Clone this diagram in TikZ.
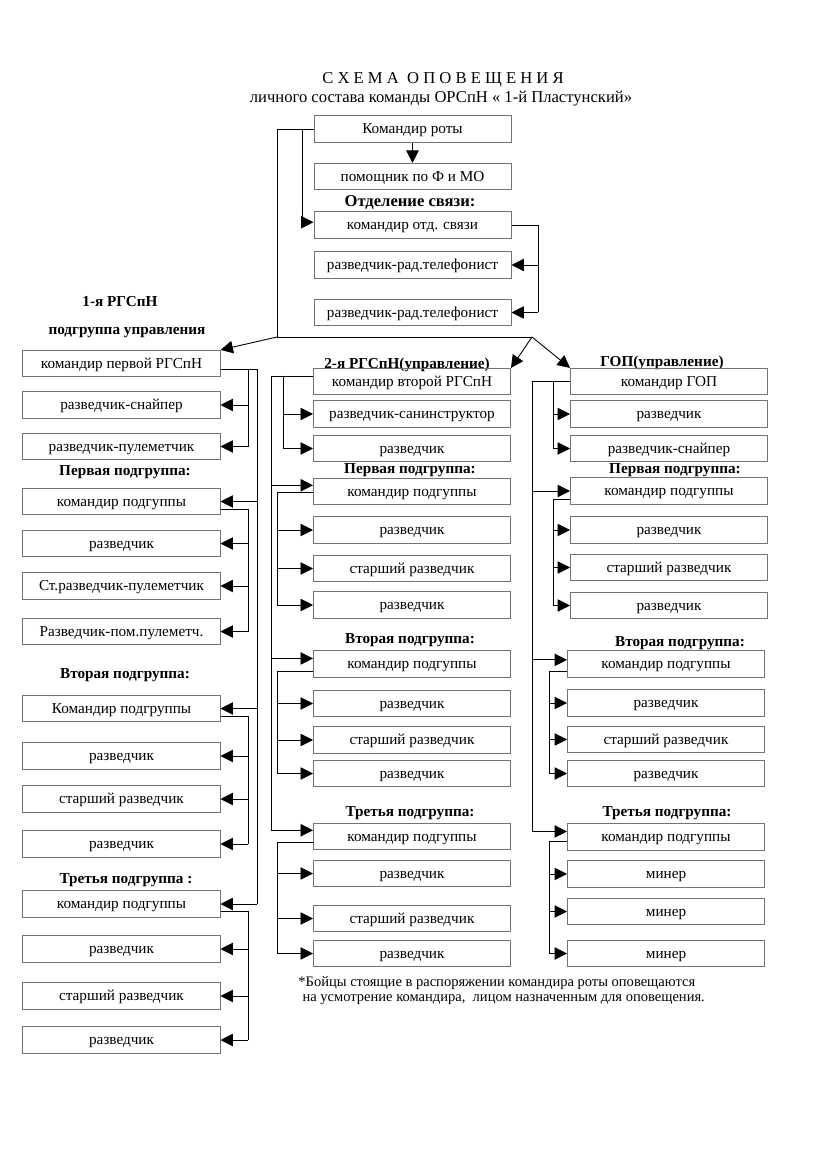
\documentclass[tikz,border=0pt]{standalone}
\usepackage{fontspec}
\setmainfont{Liberation Serif}
\usetikzlibrary{arrows.meta}
\tikzset{
  cell/.style={draw=black!55, line width=0.6pt, minimum width=142.5pt, minimum height=19pt, inner sep=0pt, text height=8.5pt, text depth=1.5pt, font=\fontsize{11}{13}\selectfont},
  head/.style={inner sep=0pt, font=\bfseries\fontsize{11}{13}\selectfont},
}
\begin{document}
\begin{tikzpicture}[x=0.254mm,y=-0.254mm,>={Triangle[length=9pt,width=9pt]},line width=0.65pt]
\useasboundingbox (0,0) rectangle (826,1169);
% title
\node[font=\fontsize{12}{14}\selectfont] (title) at (443,80) {С Х Е М А\ \ О П О В Е Щ Е Н И Я};
\node[font=\fontsize{12}{14}\selectfont] (subtitle) at (441,99) {личного состава команды ОРСпН « 1-й Пластунский»};
% company command
\node[cell] (roty) at (412.5,129) {Командир роты};
\node[cell] (pom) at (412.5,176.5) {помощник по Ф и МО};
\node[head,font=\bfseries\fontsize{12}{14}\selectfont] (svyaz) at (410,202) {Отделение связи:};
\node[cell] (ks) at (412.5,225) {командир отд. связи};
\node[cell] (tel1) at (412.5,265) {разведчик-рад.телефонист};
\node[cell] (tel2) at (412.5,312.5) {разведчик-рад.телефонист};
% first group
\node[head] (g1name) at (120,302) {1-я РГСпН};
\node[head] (g1upr) at (127,333) {подгруппа управления};
\node[cell] (a1) at (121.5,363.5) {командир первой РГСпН};
\node[cell] (a2) at (121.5,405) {разведчик-снайпер};
\node[cell] (a3) at (121.5,446.5) {разведчик-пулеметчик};
\node[head] (bh) at (125,472) {Первая подгруппа:};
\node[cell] (b1) at (121.5,501.5) {командир подгуппы};
\node[cell] (b2) at (121.5,543.5) {разведчик};
\node[cell] (b3) at (121.5,586) {Ст.разведчик-пулеметчик};
\node[cell] (b4) at (121.5,631.5) {Разведчик-пом.пулеметч.};
\node[head] (ch) at (125,675) {Вторая подгруппа:};
\node[cell] (c1) at (121.5,708.5) {Командир подгруппы};
\node[cell] (c2) at (121.5,756) {разведчик};
\node[cell] (c3) at (121.5,799) {старший разведчик};
\node[cell] (c4) at (121.5,844) {разведчик};
\node[head] (dh) at (126,880) {Третья подгруппа :};
\node[cell] (d1) at (121.5,904) {командир подгуппы};
\node[cell] (d2) at (121.5,949) {разведчик};
\node[cell] (d3) at (121.5,996) {старший разведчик};
\node[cell] (d4) at (121.5,1040) {разведчик};
% second group
\node[head] (m0) at (407,365) {2-я РГСпН(управление)};
\node[cell] (m1) at (412,381.5) {командир второй РГСпН};
\node[cell] (m2) at (412,414) {разведчик-санинструктор};
\node[cell] (m3) at (412,448.5) {разведчик};
\node[head] (nh) at (410,470) {Первая подгруппа:};
\node[cell] (n1) at (412,491.5) {командир подгуппы};
\node[cell] (n2) at (412,530) {разведчик};
\node[cell] (n3) at (412,568.5) {старший разведчик};
\node[cell] (n4) at (412,605) {разведчик};
\node[head] (ph) at (410,640) {Вторая подгруппа:};
\node[cell] (p1) at (412,664) {командир подгуппы};
\node[cell] (p2) at (412,703.5) {разведчик};
\node[cell] (p3) at (412,740) {старший разведчик};
\node[cell] (p4) at (412,773.5) {разведчик};
\node[head] (qh) at (410,813) {Третья подгруппа:};
\node[cell] (q1) at (412,836.5) {командир подгуппы};
\node[cell] (q2) at (412,873.5) {разведчик};
\node[cell] (q3) at (412,918.5) {старший разведчик};
\node[cell] (q4) at (412,953.5) {разведчик};
% GOP
\node[head] (g0) at (662,363) {ГОП(управление)};
\node[cell] (g1) at (669,381.5) {командир ГОП};
\node[cell] (g2) at (669,414) {разведчик};
\node[cell] (g3) at (669,448.5) {разведчик-снайпер};
\node[head] (hh) at (675,470) {Первая подгруппа:};
\node[cell] (h1) at (669,491) {командир подгуппы};
\node[cell] (h2) at (669,530) {разведчик};
\node[cell] (h3) at (669,567.5) {старший разведчик};
\node[cell] (h4) at (669,605.5) {разведчик};
\node[head] (ih) at (680,643) {Вторая подгруппа:};
\node[cell] (i1) at (666,664) {командир подгуппы};
\node[cell] (i2) at (666,703) {разведчик};
\node[cell] (i3) at (666,739.5) {старший разведчик};
\node[cell] (i4) at (666,773.5) {разведчик};
\node[head] (jh) at (667,813) {Третья подгруппа:};
\node[cell] (j1) at (666,837) {командир подгуппы};
\node[cell] (j2) at (666,874) {минер};
\node[cell] (j3) at (666,911.5) {минер};
\node[cell] (j4) at (666,953.5) {минер};
% note
\node[anchor=west, align=left, inner sep=0pt, font=\fontsize{10.5}{11}\selectfont] (note) at (298,990.5)
  {*Бойцы стоящие в распоряжении командира роты оповещаются\\ \hspace{3pt}на усмотрение командира,\ \ лицом назначенным для оповещения.};
% trunks
\coordinate (fork) at (277,337);
\coordinate (split) at (532,337);
\coordinate (ksin) at (302,0);
\coordinate (sv) at (538,0);
\coordinate (oL) at (257,0);
\coordinate (iL) at (248,0);
\coordinate (oM) at (271,0);
\coordinate (cM) at (283,0);
\coordinate (iM) at (277,0);
\coordinate (oR) at (532,0);
\coordinate (cR) at (553,0);
\coordinate (iR) at (549,0);
% top connectors
\draw[->] (roty) -- (pom);
\draw (roty.west) -| (fork) -- (split);
\draw[->] (roty.west -| ksin) |- ([yshift=2pt]ks.west);
\draw (ks.east) -| (sv |- tel2.east);
\draw[->] (sv |- tel1.east) -- (tel1.east);
\draw[->] (sv |- tel2.east) -- (tel2.east);
\draw[->] (fork) -- (a1.north east);
\draw[->] (split) -- (m1.north east);
\draw[->] (split) -- (g1.north west);
% first group connectors
\coordinate (a1o) at ([yshift=-4pt]a1.east);
\draw (a1o) -| (oL |- d1.east);
\draw (iL |- a1o) -- (iL |- a3.east);
\draw[->] (iL |- a2.east) -- (a2.east);
\draw[->] (iL |- a3.east) -- (a3.east);
\draw[->] (oL |- b1.east) -- (b1.east);
\draw[->] (oL |- c1.east) -- (c1.east);
\draw[->] (oL |- d1.east) -- (d1.east);
\draw ([yshift=-5.5pt]b1.east) -| (iL |- b4.east);
\draw[->] (iL |- b2.east) -- (b2.east);
\draw[->] (iL |- b3.east) -- (b3.east);
\draw[->] (iL |- b4.east) -- (b4.east);
\draw ([yshift=-5.5pt]c1.east) -| (iL |- c4.east);
\draw[->] (iL |- c2.east) -- (c2.east);
\draw[->] (iL |- c3.east) -- (c3.east);
\draw[->] (iL |- c4.east) -- (c4.east);
\draw ([yshift=-5.5pt]d1.east) -| (iL |- d4.east);
\draw[->] (iL |- d2.east) -- (d2.east);
\draw[->] (iL |- d3.east) -- (d3.east);
\draw[->] (iL |- d4.east) -- (d4.east);
% second group connectors
\coordinate (m1o) at ([yshift=4pt]m1.west);
\coordinate (n1f) at ([yshift=4.5pt]n1.west);
\coordinate (p1f) at ([yshift=4pt]p1.west);
\coordinate (q1f) at ([yshift=4.5pt]q1.west);
\draw (m1o) -| (oM |- q1f);
\draw (cM |- m1o) -- (cM |- m3.west);
\draw[->] (cM |- m2.west) -- (m2.west);
\draw[->] (cM |- m3.west) -- (m3.west);
\draw[->] (oM |- n1f) -- (n1f);
\draw[->] (oM |- p1f) -- (p1f);
\draw[->] (oM |- q1f) -- (q1f);
\draw ([yshift=-1pt]n1.west) -| (iM |- n4.west);
\draw[->] (iM |- n2.west) -- (n2.west);
\draw[->] (iM |- n3.west) -- (n3.west);
\draw[->] (iM |- n4.west) -- (n4.west);
\draw ([yshift=-5.5pt]p1.west) -| (iM |- p4.west);
\draw[->] (iM |- p2.west) -- (p2.west);
\draw[->] (iM |- p3.west) -- (p3.west);
\draw[->] (iM |- p4.west) -- (p4.west);
\draw ([yshift=-4pt]q1.west) -| (iM |- q4.west);
\draw[->] (iM |- q2.west) -- (q2.west);
\draw[->] (iM |- q3.west) -- (q3.west);
\draw[->] (iM |- q4.west) -- (q4.west);
% GOP connectors
\coordinate (h1f) at (h1.west);
\coordinate (i1f) at ([yshift=3pt]i1.west);
\coordinate (j1f) at ([yshift=4pt]j1.west);
\draw (g1.west) -| (oR |- j1f);
\draw (cR |- g1.west) -- (cR |- g3.west);
\draw[->] (cR |- g2.west) -- (g2.west);
\draw[->] (cR |- g3.west) -- (g3.west);
\draw[->] (oR |- h1f) -- (h1f);
\draw[->] (oR |- i1f) -- (i1f);
\draw[->] (oR |- j1f) -- (j1f);
\draw ([yshift=-6pt]h1.west) -| (cR |- h4.west);
\draw[->] (cR |- h2.west) -- (h2.west);
\draw[->] (cR |- h3.west) -- (h3.west);
\draw[->] (cR |- h4.west) -- (h4.west);
\draw ([yshift=-5.5pt]i1.west) -| (iR |- i4.west);
\draw[->] (iR |- i2.west) -- (i2.west);
\draw[->] (iR |- i3.west) -- (i3.west);
\draw[->] (iR |- i4.west) -- (i4.west);
\draw ([yshift=-3.5pt]j1.west) -| (iR |- j4.west);
\draw[->] (iR |- j2.west) -- (j2.west);
\draw[->] (iR |- j3.west) -- (j3.west);
\draw[->] (iR |- j4.west) -- (j4.west);
\end{tikzpicture}
\end{document}
